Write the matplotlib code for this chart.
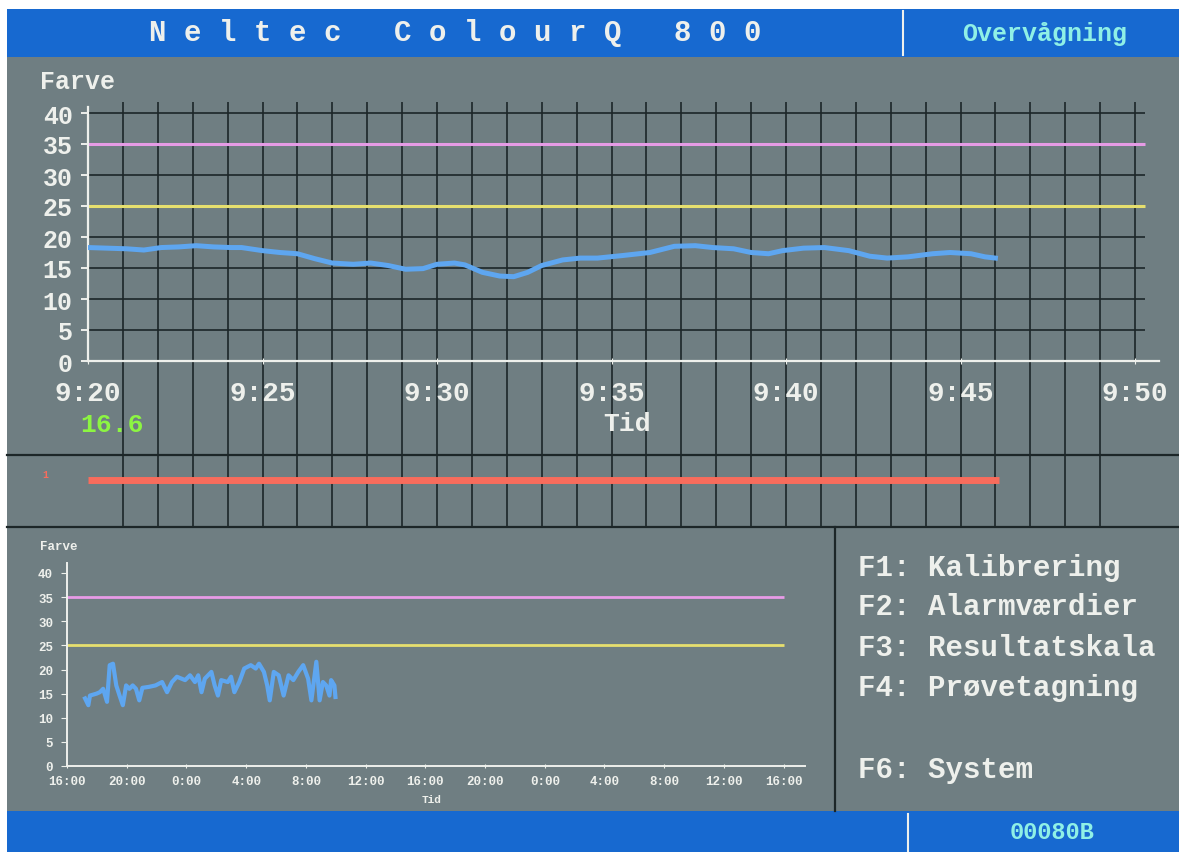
import numpy as np
import matplotlib
matplotlib.use("Agg")
import matplotlib.pyplot as plt
from matplotlib.patches import Rectangle

plt.rcParams['font.family'] = ['Liberation Mono', 'DejaVu Sans Mono']
plt.rcParams['font.weight'] = 'bold'

# ---- data ----
# upper trend: minutes after 9:20, colour value
trend_min = [0.0, 1.1, 1.6, 2.1, 2.6, 3.1, 3.6, 4.1, 4.4, 5.0, 5.5, 6.0, 6.5, 7.0,
             7.6, 8.1, 8.6, 9.1, 9.6, 10.0, 10.5, 10.8, 11.3, 11.8, 12.2, 12.6, 13.0,
             13.6, 14.1, 14.6, 15.3, 16.1, 16.8, 17.4, 17.9, 18.5, 19.0, 19.5, 19.9,
             20.5, 21.1, 21.8, 22.4, 22.9, 23.5, 24.2, 24.7, 25.3, 25.7, 26.0]
trend_val = [18.3, 18.1, 17.9, 18.3, 18.4, 18.6, 18.4, 18.3, 18.3, 17.8, 17.5, 17.3, 16.5, 15.8,
             15.6, 15.8, 15.4, 14.8, 14.9, 15.6, 15.8, 15.5, 14.3, 13.7, 13.6, 14.3, 15.4,
             16.3, 16.6, 16.6, 17.0, 17.5, 18.5, 18.6, 18.3, 18.1, 17.5, 17.3, 17.8,
             18.2, 18.3, 17.8, 16.9, 16.6, 16.8, 17.3, 17.5, 17.3, 16.8, 16.6]
time_ticks = [0, 5, 10, 15, 20, 25, 30]
time_labels = ['9:20', '9:25', '9:30', '9:35', '9:40', '9:45', '9:50']
alarm_high = 35
alarm_low = 25
current_value = '16.6'
status_span = [0.0, 26.1]   # red status bar, minutes

# lower trend: hours after 16:00
hist_h = [1.21, 1.43, 1.54, 1.98, 2.20, 2.42, 2.68, 2.86, 3.08, 3.30, 3.52, 3.74, 3.96, 4.18,
          4.40, 4.62, 4.84, 5.05, 5.49, 5.93, 6.37, 6.70, 7.03, 7.36, 7.91, 8.24, 8.57, 8.79,
          9.01, 9.23, 9.67, 9.89, 10.11, 10.33, 10.77, 10.99, 11.21, 11.54, 11.87, 12.31,
          12.64, 12.86, 13.19, 13.41, 13.58, 13.85, 14.18, 14.51, 14.84, 15.16, 15.49, 15.82,
          16.15, 16.37, 16.70, 16.92, 17.14, 17.36, 17.58, 17.69, 17.91, 17.98]
hist_val = [14.0, 12.6, 14.6, 15.0, 15.3, 16.0, 13.3, 20.9, 21.2, 16.7, 14.6, 12.6, 16.7, 16.0,
            16.7, 16.0, 13.6, 16.2, 16.4, 16.7, 17.4, 15.3, 17.4, 18.5, 17.8, 18.8, 17.4, 18.8,
            15.3, 18.1, 19.5, 16.7, 14.6, 17.8, 17.4, 18.5, 15.3, 17.4, 20.2, 20.9,
            20.2, 21.2, 19.5, 16.7, 13.6, 19.5, 18.8, 14.6, 18.8, 17.8, 19.5, 20.9,
            18.1, 13.6, 21.6, 13.6, 17.4, 16.7, 14.6, 17.8, 16.7, 14.3]
hist_ticks = [0, 4, 8, 12, 16, 20, 24, 28, 32, 36, 40, 44, 48]
hist_labels = ['16:00', '20:00', '0:00', '4:00', '8:00', '12:00', '16:00',
               '20:00', '0:00', '4:00', '8:00', '12:00', '16:00']
menu_items = ['F1: Kalibrering', 'F2: Alarmværdier', 'F3: Resultatskala',
              'F4: Prøvetagning', 'F6: System']
menu_rows = [568, 607, 648, 688, 770]

# ---- colours ----
GRAY = '#6f7e82'
BLUE_BAR = '#1769d0'
GRID = '#1c2628'
WHITE = '#eef0ec'
PINK = '#e79be6'
YELLOW = '#e6df6e'
TRACE = '#5ea6f0'
RED = '#f86c5c'
CYAN = '#8ff0e6'
GREEN = '#8cf542'

W, H = 1179, 853


def rect(x0, y0, x1, y1):
    return [x0 / W, 1 - y1 / H, (x1 - x0) / W, (y1 - y0) / H]


def pixel_axes(fig):
    a = fig.add_axes([0, 0, 1, 1])
    a.set_xlim(0, W)
    a.set_ylim(H, 0)
    a.axis('off')
    a.set_facecolor('none')
    return a


fig = plt.figure(figsize=(W / 100, H / 100), dpi=100)
fig.patch.set_facecolor('white')

# background panel in pixel coords
bg = pixel_axes(fig)
bg.add_patch(Rectangle((7, 58), W - 7, 754, facecolor=GRAY, edgecolor='none'))
bg.add_patch(Rectangle((7, 10), W - 7, 48, facecolor=BLUE_BAR, edgecolor='none'))
bg.add_patch(Rectangle((7, 812), W - 7, 41, facecolor=BLUE_BAR, edgecolor='none'))
bg.plot([903, 903], [12, 56], color=WHITE, lw=1.5)
bg.plot([908, 908], [815, 853], color=WHITE, lw=1.5)
bg.plot([7, W], [456, 456], color=GRID, lw=1.6)
bg.plot([7, W], [528, 528], color=GRID, lw=1.6)
bg.plot([835, 835], [528, 812], color=GRID, lw=1.6)

# ---- main trend ----
ax = fig.add_axes(rect(88, 103, 1160, 528))
ax.set_facecolor('none')
ax.set_xlim(0, (1160 - 88) / 34.9)
ax.set_ylim(-(528 - 362) / 6.2, (362 - 103) / 6.2)
ymin, ymax = ax.get_ylim()

ax.hlines(np.arange(5, 41, 5), 0, 30.3, color=GRID, lw=1.2, zorder=1)
ax.vlines(np.arange(1, 30), ymin, ymax, color=GRID, lw=1.2, zorder=1)
ax.vlines([30], 0, ymax, color=GRID, lw=1.2, zorder=1)

ax.hlines([alarm_high], 0, 30.3, color=PINK, lw=2.2, zorder=2)
ax.hlines([alarm_low], 0, 30.3, color=YELLOW, lw=2.2, zorder=2)
ax.plot(trend_min, trend_val, color=TRACE, lw=3.6, zorder=3)
ax.hlines([-(481 - 362) / 6.2], status_span[0], status_span[1], color=RED, lw=5,
          zorder=3)

for side in ['top', 'right']:
    ax.spines[side].set_visible(False)
ax.spines['left'].set_position(('data', 0))
ax.spines['bottom'].set_position(('data', 0))
ax.spines['left'].set_bounds(0, 41)
ax.spines['bottom'].set_bounds(0, 30.7)
for side in ['left', 'bottom']:
    ax.spines[side].set_color(WHITE)
    ax.spines[side].set_linewidth(1.6)

ax.set_xticks(time_ticks)
ax.set_xticklabels(time_labels)
ax.set_yticks(np.arange(0, 41, 5))
ax.tick_params(axis='x', colors=WHITE, labelsize=20, length=4, direction='inout', pad=12)
ax.tick_params(axis='y', colors=WHITE, labelsize=18, length=5, width=1.4, pad=6)

# ---- history trend ----
ax2 = fig.add_axes(rect(67, 562, 805, 767))
ax2.set_facecolor('none')
ax2.set_xlim(0, (805 - 67) / 14.93)
ax2.set_ylim(0, (767 - 562) / 4.825)
ax2.hlines([alarm_high], 0, 48, color=PINK, lw=2.0)
ax2.hlines([alarm_low], 0, 48, color=YELLOW, lw=2.0)
ax2.plot(hist_h, hist_val, color=TRACE, lw=3.0)

for side in ['top', 'right']:
    ax2.spines[side].set_visible(False)
ax2.spines['left'].set_bounds(0, 42)
for side in ['left', 'bottom']:
    ax2.spines[side].set_color(WHITE)
    ax2.spines[side].set_linewidth(1.4)
ax2.set_xticks(hist_ticks)
ax2.set_xticklabels(hist_labels)
ax2.set_yticks(np.arange(0, 41, 5))
ax2.tick_params(axis='x', colors=WHITE, labelsize=9, length=3, direction='inout', pad=5)
ax2.tick_params(axis='y', colors=WHITE, labelsize=9, length=4, pad=6)

# ---- texts on top ----
top = pixel_axes(fig)
top.text(455, 33, 'N e l t e c   C o l o u r Q   8 0 0', color=WHITE, fontsize=21,
         ha='center', va='center')
top.text(1045, 34, 'Overvågning', color=CYAN, fontsize=18, ha='center', va='center')
top.text(1052, 833, '00080B', color=CYAN, fontsize=17, ha='center', va='center')
top.text(40, 82, 'Farve', color=WHITE, fontsize=18, ha='left', va='center')
top.text(112, 425, current_value, color=GREEN, fontsize=19, ha='center', va='center')
top.text(627, 424, 'Tid', color=WHITE, fontsize=19, ha='center', va='center')
top.text(45, 475, '1', color=RED, fontsize=7, ha='center', va='center')
top.text(40, 547, 'Farve', color=WHITE, fontsize=9, ha='left', va='center')
top.text(432, 800, 'Tid', color=WHITE, fontsize=8, ha='center', va='center')
for label, yrow in zip(menu_items, menu_rows):
    top.text(858, yrow, label, color=WHITE, fontsize=21, ha='left', va='center')

fig.savefig('out.png', dpi=100)
